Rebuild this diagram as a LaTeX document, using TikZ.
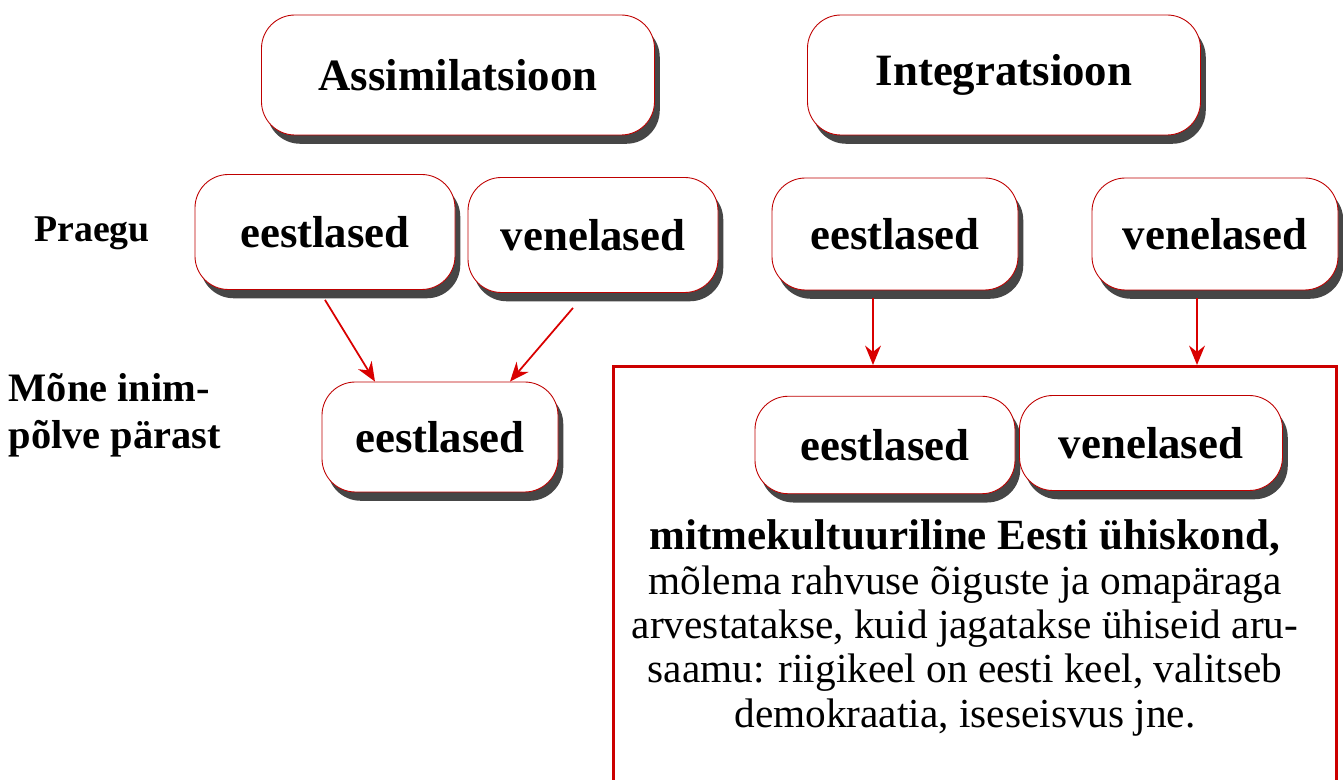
\documentclass[tikz,border=0pt]{standalone}
\usepackage{fontspec}
\setmainfont{Liberation Serif}
\usetikzlibrary{positioning, arrows.meta, shadows}
\tikzset{
>={Stealth[length=11pt,width=9pt]}, % big filled arrow heads
pill/.style={draw=red!75!black, line width=0.5pt, fill=white, rounded corners=19pt, font=\bfseries\fontsize{25.5}{29}\selectfont, drop shadow={shadow xshift=3pt, shadow yshift=-5pt, fill=black!85, opacity=0.85}}, % the rounded boxes
lbl/.style={font=\bfseries\fontsize{23}{27}\selectfont}, % row labels on the left
link/.style={->, red!85!black, line width=1pt}, % red arrows
frame/.style={draw=red!80!black, line width=1.6pt}, % frame round the society
}
\begin{document}
\begin{tikzpicture}
\useasboundingbox (0,0) rectangle (26.86,-15.6);
\clip (0,0) rectangle (26.86,-15.6);
% top row
\node[pill, minimum width=7.86cm, minimum height=2.4cm] (assim) at (9.16,-1.5) {Assimilatsioon};
\node[pill, minimum width=7.86cm, minimum height=2.4cm] (integr) at (20.08,-1.5) {Integratsioon};
% now
\node[lbl, font=\bfseries\fontsize{21.5}{27}\selectfont] (now) at (1.84,-4.66) {Praegu};
\node[pill, minimum width=5.2cm, minimum height=2.3cm] (est1) at (6.5,-4.64) {eestlased};
\node[pill, minimum width=5.0cm, minimum height=2.3cm] (rus1) at (11.86,-4.7) {venelased};
\node[pill, minimum width=4.92cm, minimum height=2.24cm] (est2) at (17.9,-4.68) {eestlased};
\node[pill, minimum width=4.92cm, minimum height=2.24cm] (rus2) at (24.3,-4.68) {venelased};
% later
\node[lbl, anchor=west, align=left] (later) at (0.05,-8.3) {Mõne inim-\\põlve pärast};
\node[pill, minimum width=4.72cm, minimum height=2.2cm] (est3) at (8.8,-8.74) {eestlased};
\node[frame, anchor=north west, minimum width=14.46cm, minimum height=9cm] (soc) at (12.24,-7.3) {};
\node[pill, minimum width=5.2cm, minimum height=1.95cm] (est4) at (17.7,-8.9) {eestlased};
\node[pill, minimum width=5.26cm, minimum height=1.9cm] (rus4) at (23.02,-8.86) {venelased};
\node[align=center, font=\fontsize{23.5}{25.2}\selectfont] (text) at (19.3,-12.56)
  {{\bfseries\fontsize{24.5}{25.2}\selectfont mitmekultuuriline Eesti ühiskond,}\\
   mõlema rahvuse õiguste ja omapäraga\\
   arvestatakse, kuid jagatakse ühiseid aru-\\
   saamu: riigikeel on eesti keel, valitseb\\
   demokraatia, iseseisvus jne.};
% arrows
\draw[link] ([yshift=-0.2cm]est1.south) -- ([xshift=-1.3cm]est3.north);
\draw[link] ([xshift=-0.4cm,yshift=-0.3cm]rus1.south) -- ([xshift=1.4cm]est3.north);
\draw[link] ([xshift=-0.44cm,yshift=-0.15cm]est2.south) -- ([xshift=-0.44cm]est2.south |- soc.north);
\draw[link] ([xshift=-0.36cm,yshift=-0.15cm]rus2.south) -- ([xshift=-0.36cm]rus2.south |- soc.north);
\end{tikzpicture}
\end{document}
